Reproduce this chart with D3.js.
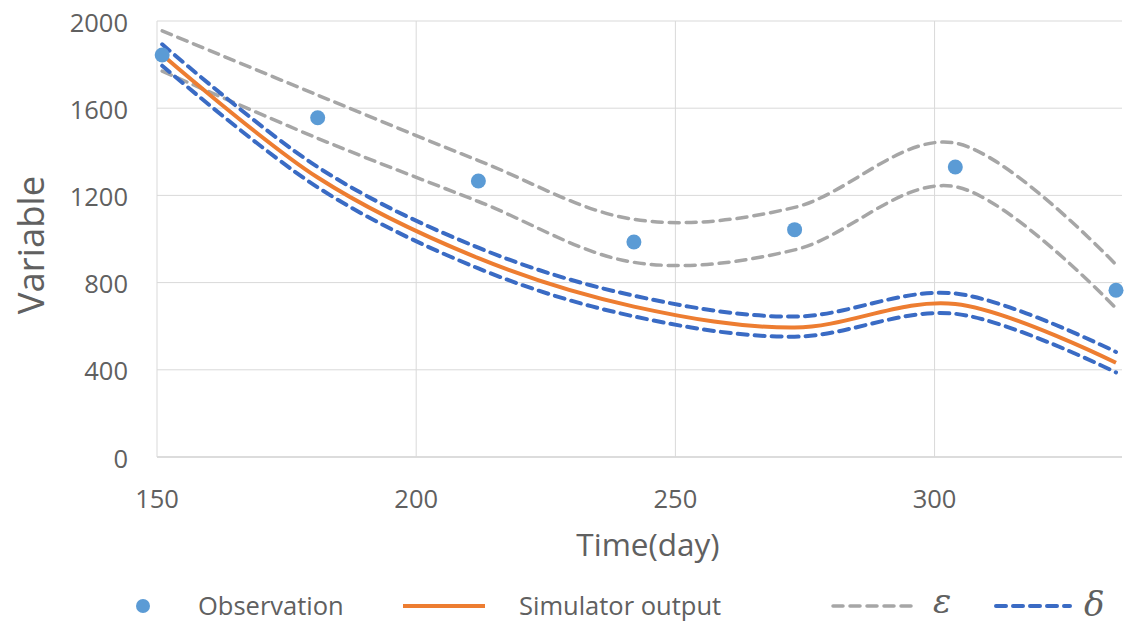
<!DOCTYPE html>
<html>
<head>
<meta charset="utf-8">
<script src="https://cdn.jsdelivr.net/npm/d3@7"></script>
<style>
  html, body { margin: 0; padding: 0; background: #ffffff; }
  svg { display: block; font-family: "Open Sans", "Noto Sans", sans-serif; }
</style>
</head>
<body>
<svg id="chart" width="1128" height="623"></svg>
<script>
// Sampling days (x) shared by every series
const days = [151, 181, 212, 242, 273, 304, 335];

// Observed values
const observation = [1844, 1556, 1266, 986, 1043, 1330, 765];

// Simulator output
const simulator = [1845, 1282, 912, 690, 594, 702, 432];

// ε band (upper / lower)
const epsUpper = [1955, 1660, 1360, 1090, 1145, 1440, 882];
const epsLower = [1770, 1462, 1172, 893, 950, 1240, 682];

// δ band (upper / lower)
const deltaUpper = [1893, 1330, 960, 740, 644, 750, 482];
const deltaLower = [1795, 1237, 865, 645, 552, 657, 388];

// Axis ticks
const xTicks = [150, 200, 250, 300];
const yTicks = [0, 400, 800, 1200, 1600, 2000];

const svg = d3.select("#chart");
const textColor = "#606060";
const gridColor = "#d9d9d9";

const x = d3.scaleLinear().domain([150, 335]).range([157, 1116]);
const y = d3.scaleLinear().domain([0, 2000]).range([457, 21]);
const plotRight = 1122;

svg.append("rect").attr("width", 1128).attr("height", 623).attr("fill", "#ffffff");

// Horizontal gridlines
svg.append("g").selectAll("line").data(yTicks).join("line")
  .attr("x1", x(150)).attr("x2", plotRight)
  .attr("y1", d => y(d)).attr("y2", d => y(d))
  .attr("stroke", d => d === 0 ? "#d0d0d0" : gridColor)
  .attr("stroke-width", d => d === 0 ? 1.5 : 1);

// Vertical gridlines
svg.append("g").selectAll("line").data(xTicks).join("line")
  .attr("x1", d => x(d)).attr("x2", d => x(d))
  .attr("y1", y(2000)).attr("y2", y(0))
  .attr("stroke", gridColor).attr("stroke-width", 1);

// Y tick labels
svg.append("g").selectAll("text").data(yTicks).join("text")
  .attr("x", 128).attr("y", d => y(d) + 0.5)
  .attr("text-anchor", "end").attr("dominant-baseline", "central")
  .attr("fill", textColor).attr("font-size", 25.5)
  .text(d => d);

// X tick labels
svg.append("g").selectAll("text").data(xTicks).join("text")
  .attr("x", d => x(d)).attr("y", 508)
  .attr("text-anchor", "middle")
  .attr("fill", textColor).attr("font-size", 25.5)
  .text(d => d);

// Axis titles
svg.append("text")
  .attr("x", 648).attr("y", 556)
  .attr("text-anchor", "middle")
  .attr("fill", textColor).attr("font-size", 31.5)
  .text("Time(day)");

svg.append("text")
  .attr("transform", "translate(44,245) rotate(-90)")
  .attr("text-anchor", "middle")
  .attr("fill", textColor).attr("font-size", 36.5)
  .text("Variable");

// Smoothed series lines
const line = d3.line()
  .x(d => x(d[0]))
  .y(d => y(d[1]))
  .curve(d3.curveCardinal.tension(0));

const pts = vals => days.map((d, i) => [d, vals[i]]);

const gray = "#a6a6a6";
const blue = "#3a6bc4";
const orange = "#ed7d31";
const obsBlue = "#5b9bd5";

const series = [
  { vals: epsUpper, color: gray, width: 3.5, dash: "10,7" },
  { vals: epsLower, color: gray, width: 3.5, dash: "10,7" },
  { vals: deltaUpper, color: blue, width: 4, dash: "10,7" },
  { vals: deltaLower, color: blue, width: 4, dash: "10,7" },
  { vals: simulator, color: orange, width: 4, dash: null }
];

svg.append("g").selectAll("path").data(series).join("path")
  .attr("d", s => line(pts(s.vals)))
  .attr("fill", "none")
  .attr("stroke", s => s.color)
  .attr("stroke-width", s => s.width)
  .attr("stroke-dasharray", s => s.dash)
  .attr("stroke-linecap", s => s.dash ? "round" : "butt");

// Observation points
svg.append("g").selectAll("circle").data(pts(observation)).join("circle")
  .attr("cx", d => x(d[0])).attr("cy", d => y(d[1]))
  .attr("r", 7.5).attr("fill", obsBlue);

// Legend
const lg = svg.append("g");
const ly = 606;
lg.append("circle").attr("cx", 143).attr("cy", ly).attr("r", 7).attr("fill", obsBlue);
lg.append("text").attr("x", 198).attr("y", ly + 9).attr("fill", textColor)
  .attr("font-size", 25.5).text("Observation");

lg.append("line").attr("x1", 403).attr("x2", 485).attr("y1", ly).attr("y2", ly)
  .attr("stroke", orange).attr("stroke-width", 4);
lg.append("text").attr("x", 519).attr("y", ly + 9).attr("fill", textColor)
  .attr("font-size", 25.5).text("Simulator output");

lg.append("line").attr("x1", 833).attr("x2", 918).attr("y1", ly).attr("y2", ly)
  .attr("stroke", gray).attr("stroke-width", 3.5)
  .attr("stroke-dasharray", "10,7").attr("stroke-linecap", "round");
lg.append("text").attr("x", 933).attr("y", ly + 7).attr("fill", textColor)
  .attr("font-size", 34).attr("font-style", "italic")
  .attr("font-family", "'DejaVu Serif', 'Liberation Serif', serif")
  .text("ε");

lg.append("line").attr("x1", 996).attr("x2", 1070).attr("y1", ly).attr("y2", ly)
  .attr("stroke", blue).attr("stroke-width", 4)
  .attr("stroke-dasharray", "10,7").attr("stroke-linecap", "round");
lg.append("text").attr("x", 1084).attr("y", ly + 10).attr("fill", textColor)
  .attr("font-size", 34).attr("font-style", "italic")
  .attr("font-family", "'DejaVu Serif', 'Liberation Serif', serif")
  .text("δ");
</script>
</body>
</html>
